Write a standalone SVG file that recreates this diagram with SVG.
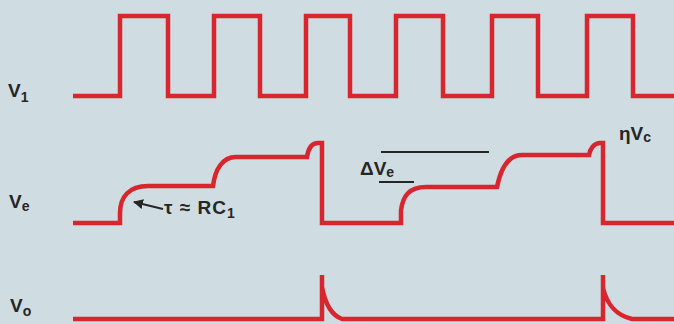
<svg xmlns="http://www.w3.org/2000/svg" width="674" height="324" viewBox="0 0 674 324">
<defs>
<style>
.bg{fill:#cfdde3}
.wave{fill:none;stroke:#d8262e;stroke-width:4.5;stroke-linejoin:miter;stroke-linecap:butt}
.lbl{font-family:"Liberation Sans",Arial,sans-serif;font-weight:bold;font-size:19px;fill:#262626}
.ann{font-family:"Liberation Sans",Arial,sans-serif;font-weight:bold;font-size:19px;fill:#262626}
.sub{font-size:14px}
.ink{stroke:#262626;stroke-width:2;fill:none}
</style>
<marker id="ah" viewBox="0 0 10 10" refX="9" refY="5" markerWidth="5" markerHeight="5" orient="auto" markerUnits="strokeWidth">
<path d="M0,0 L10,5 L0,10 z" fill="#262626"/>
</marker>
</defs>
<rect class="bg" x="0" y="0" width="674" height="324"/>

<g id="label-v1"><text class="lbl" x="8" y="97">V<tspan class="sub" dy="5">1</tspan></text></g>
<g id="label-ve"><text class="lbl" x="9" y="208">V<tspan class="sub" dy="3">e</tspan></text></g>
<g id="label-vo"><text class="lbl" x="10" y="312">V<tspan class="sub" dy="4">o</tspan></text></g>

<g id="wave-v1">
<path class="wave" d="M73,96 L120,96 L120,16 L168,16 L168,96 L214,96 L214,16 L260,16 L260,96 L306,96 L306,16 L350,16 L350,96 L396,96 L396,16 L443,16 L443,96 L492,96 L492,16 L538,16 L538,96 L587,96 L587,16 L633,16 L633,96 L676,96"/>
</g>

<g id="wave-ve">
<path class="wave" d="M73,223 L120,223 L120,213 C120,197 129,186 148,186 L213,186 C215,170 222,157 236,157 L307,157 C308,150 311,143 318,143 L322,143 L322,223 L401,223 L401,210 C403,196 409,187 426,187 L497,187 C500,172 506,155 522,155 L589,155 C590,149 594,143 600,143 L603,143 L603,223 L676,223"/>
</g>

<g id="wave-vo">
<path class="wave" d="M73,319 L322,319 L322,275 L322,287 C325,303 331,315 342,319 L603,319 L603,275 L603,288 C607,304 615,315 632,319 L676,319"/>
</g>

<g id="annot-tau">
<line class="ink" x1="163" y1="209" x2="134" y2="202" marker-end="url(#ah)"/>
<text class="ann" x="164" y="214" letter-spacing="1">τ ≈ RC<tspan class="sub" dy="4">1</tspan></text>
</g>

<g id="annot-dve">
<line class="ink" x1="381" y1="152" x2="489" y2="152"/>
<line class="ink" x1="379" y1="182" x2="414" y2="182"/>
<text class="ann" x="360" y="175">ΔV<tspan class="sub" dy="2">e</tspan></text>
</g>

<g id="annot-nvc">
<text class="ann" x="619" y="140">ηV<tspan class="sub" dy="2">c</tspan></text>
</g>
</svg>
